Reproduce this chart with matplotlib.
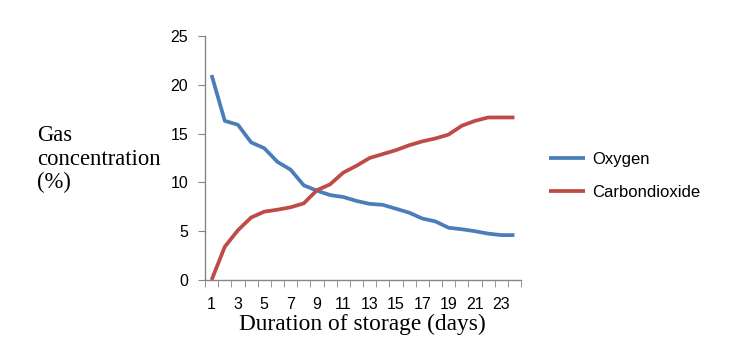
import matplotlib
matplotlib.use("Agg")
import matplotlib.pyplot as plt
import numpy as np

# storage days and gas readings (%)
days = list(range(1, 25))
oxygen = [21.0, 16.3, 15.9, 14.1, 13.5, 12.1, 11.3, 9.7, 9.15, 8.7, 8.5, 8.1,
          7.8, 7.7, 7.3, 6.9, 6.3, 6.0, 5.35, 5.2, 5.0, 4.75, 4.6, 4.6]
co2 = [0.0, 3.4, 5.1, 6.4, 7.0, 7.2, 7.45, 7.85, 9.2, 9.8, 11.0, 11.7,
       12.5, 12.9, 13.3, 13.8, 14.2, 14.5, 14.9, 15.8, 16.3, 16.65, 16.65, 16.65]
tick_days = list(range(1, 24, 2))

fig = plt.figure(figsize=(7.33, 3.56), dpi=100)
ax = fig.add_axes([0.2797, 0.2135, 0.4311, 0.6855])

ax.plot(days, oxygen, color='#4A7EBB', linewidth=2.7, label='Oxygen',
        solid_capstyle='butt')
ax.plot(days, co2, color='#BE4B48', linewidth=2.7, label='Carbondioxide',
        solid_capstyle='butt')

ax.set_xlim(0.5, 24.5)
ax.set_ylim(0, 25)
ax.set_yticks(np.arange(0, 26, 5))
ax.set_xticks(tick_days)
ax.set_xticks(np.arange(0.5, 25, 1), minor=True)
ax.tick_params(axis='x', which='major', length=0, pad=12, labelsize=11.5)
ax.tick_params(axis='x', which='minor', length=5, color='#868686')
ax.tick_params(axis='y', length=5, color='#868686', labelsize=11.5, pad=7)
for lbl in ax.get_xticklabels() + ax.get_yticklabels():
    lbl.set_family('Liberation Sans')

for side in ('top', 'right'):
    ax.spines[side].set_visible(False)
for side in ('left', 'bottom'):
    ax.spines[side].set_color('#868686')
    ax.spines[side].set_linewidth(1)

fig.text(0.05, 0.553, "Gas\nconcentration\n(%)", family='Liberation Serif',
         fontsize=16.3, ha='left', va='center', linespacing=1.15)
fig.text(0.494, 0.088, "Duration of storage (days)", family='Liberation Serif',
         fontsize=16.8, ha='center', va='center')

leg = ax.legend(loc='center left', bbox_to_anchor=(1.04, 0.426), frameon=False,
                prop={'family': 'Liberation Sans', 'size': 12},
                handlelength=2.2, handletextpad=0.4, labelspacing=1.1)

fig.savefig('out.png', dpi=100)
